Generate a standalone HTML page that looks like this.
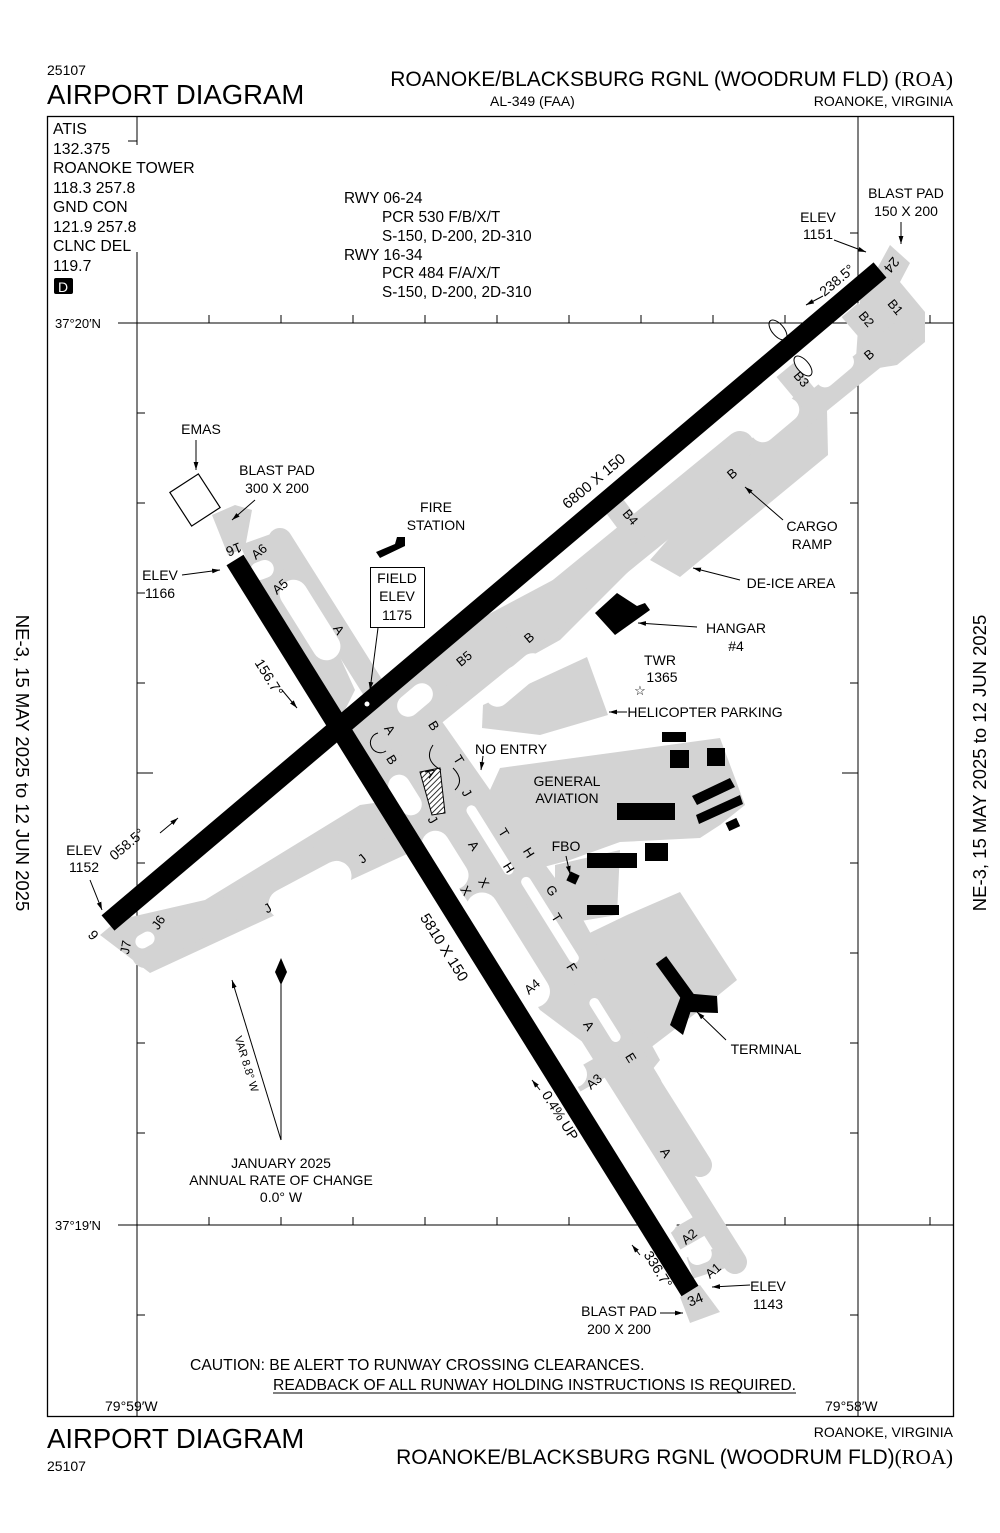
<!DOCTYPE html>
<html><head><meta charset="utf-8"><style>
html,body{margin:0;padding:0;background:#fff}
svg{display:block}
text{font-family:"Liberation Sans",sans-serif;fill:#000}
</style></head><body>
<svg width="1000" height="1533" viewBox="0 0 1000 1533" xmlns="http://www.w3.org/2000/svg">
<defs>
<pattern id="hatch" width="4" height="4" patternUnits="userSpaceOnUse" patternTransform="rotate(45)"><rect width="4" height="4" fill="#fff"/><line x1="0" y1="0" x2="0" y2="4" stroke="#000" stroke-width="1.6"/></pattern>
<marker id="ah" viewBox="0 0 10 10" refX="10" refY="5" markerWidth="8" markerHeight="8" orient="auto"><path d="M0,2 L10,5 L0,8 z" fill="#000"/></marker>
</defs>
<!-- header -->
<text x="47" y="75" font-size="14">25107</text>
<text x="47" y="104" font-size="27.5">AIRPORT DIAGRAM</text>
<text x="953" y="86" font-size="21" text-anchor="end">ROANOKE/BLACKSBURG RGNL (WOODRUM FLD) <tspan font-family="Liberation Serif">(ROA)</tspan></text>
<text x="490" y="106" font-size="14">AL-349 (FAA)</text>
<text x="953" y="106" font-size="14" text-anchor="end">ROANOKE, VIRGINIA</text>
<!-- frame -->
<rect x="47.5" y="116.5" width="906" height="1300" fill="none" stroke="#000" stroke-width="1.3"/>
<g stroke="#000" stroke-width="1">
<line x1="137" y1="116" x2="137" y2="145"/><line x1="128" y1="141" x2="137" y2="141"/>
<line x1="137" y1="252" x2="137" y2="1416"/>
<line x1="858" y1="116" x2="858" y2="1416"/>
<line x1="118" y1="323" x2="953" y2="323"/>
<line x1="118" y1="1225" x2="953" y2="1225"/>
</g>
<g stroke="#000" stroke-width="1">
<path d="M209 323v-8M281 323v-8M353 323v-8M425 323v-8M497 323v-8M569 323v-8M641 323v-8M713 323v-8M785 323v-8M930 323v-8"/>
<path d="M137 413h8M137 503h8M137 593h8M137 683h8M137 773h16M137 863h8M137 953h8M137 1043h8M137 1133h8M137 1315h8"/>
<path d="M858 233h-8M858 413h-8M858 503h-8M858 593h-8M858 683h-8M858 773h-16M858 863h-8M858 953h-8M858 1043h-8M858 1133h-8M858 1315h-8"/>
<path d="M137 1225v8M209 1225v-8M281 1225v-8M353 1225v-8M425 1225v-8M497 1225v-8M569 1225v-8M641 1225v-8M713 1225v-8M785 1225v-8M930 1225v-8"/>
</g>
<text x="55" y="328" font-size="13">37°20′N</text>
<text x="55" y="1230" font-size="13">37°19′N</text>
<!-- freq -->
<g font-size="15.8">
<text x="53" y="134">ATIS</text><text x="53" y="154">132.375</text>
<text x="53" y="173">ROANOKE TOWER</text><text x="53" y="193">118.3  257.8</text>
<text x="53" y="212">GND CON</text><text x="53" y="232">121.9  257.8</text>
<text x="53" y="251">CLNC DEL</text><text x="53" y="271">119.7</text>
</g>
<rect x="54" y="278" width="19" height="16" rx="2" fill="#000"/>
<text x="58" y="292" font-size="14" style="fill:#fff">D</text>
<g font-size="15.3">
<text x="344" y="203">RWY 06-24</text><text x="382" y="222">PCR 530 F/B/X/T</text><text x="382" y="241">S-150, D-200, 2D-310</text>
<text x="344" y="260">RWY 16-34</text><text x="382" y="278">PCR 484 F/A/X/T</text><text x="382" y="297">S-150, D-200, 2D-310</text>
</g>
<!-- side text -->
<text transform="translate(16,763) rotate(90)" font-size="18.5" text-anchor="middle">NE-3,  15 MAY 2025  to  12 JUN 2025</text>
<text transform="translate(986,763) rotate(-90)" font-size="18.5" text-anchor="middle">NE-3,  15 MAY 2025  to  12 JUN 2025</text>

<!-- gray pavements -->
<g fill="#d3d3d3" stroke="none">
<polygon points="575,940 627,915 680,892 737,980 700,1010 637,1058 612,1055 575,985"/>
<polygon points="500,768 720,738 745,805 720,825 700,838 620,842 570,860 540,868 505,830 490,790"/>
<polygon points="482,728 483,705 587,657 608,715 540,735"/>
<polygon points="555,865 620,850 617,915 575,922 555,900"/>
<polygon points="795,395 827,410 828,455 680,577 650,560"/>
<polygon points="890,245 910,263 900,282 925,312 925,342 897,365 855,372 860,300"/>
<polygon points="212,515 228,555 245,548 252,510 235,505"/>
<polygon points="240,545 282,530 355,690 340,720 300,680"/>
<polygon points="100,935 150,973 420,848 395,800 360,805 205,900 118,920"/>
<polygon points="330,720 420,690 455,740 490,790 575,905 660,1060 640,1085 540,1010 440,860 355,770"/>
<polygon points="340,720 440,640 600,555 640,560 560,640 470,690 420,720"/>
<polygon points="680,1297 700,1285 720,1312 690,1323"/>
</g>
<g stroke="#d3d3d3" fill="none" stroke-linecap="round">
<line x1="280" y1="540" x2="735" y2="1262" stroke-width="24"/>
<line x1="440" y1="740" x2="650" y2="1085" stroke-width="24"/>
<line x1="400" y1="740" x2="900" y2="335" stroke-width="26"/>
<line x1="640" y1="1070" x2="700" y2="1165" stroke-width="24"/>
<line x1="520" y1="625" x2="740" y2="445" stroke-width="28"/>
<line x1="145" y1="955" x2="400" y2="815" stroke-width="26"/>
</g>
<!-- connectors -->
<g stroke="#d3d3d3" stroke-width="22" stroke-linecap="butt">
<line x1="250" y1="565" x2="280" y2="550"/>
<line x1="268" y1="592" x2="290" y2="578"/>
<line x1="455" y1="640" x2="480" y2="672"/>
<line x1="610" y1="500" x2="640" y2="540"/>
<line x1="785" y1="370" x2="810" y2="400"/>
<line x1="850" y1="310" x2="880" y2="345"/>
<line x1="515" y1="985" x2="545" y2="970"/>
<line x1="575" y1="1082" x2="610" y2="1062"/>
<line x1="675" y1="1240" x2="710" y2="1220"/>
<line x1="690" y1="1268" x2="730" y2="1255"/>
<line x1="445" y1="880" x2="480" y2="862"/>
<line x1="150" y1="925" x2="165" y2="950"/>
</g>
<!-- white islands -->
<g fill="#fff">
<rect x="-20" y="-10" width="40" height="20" rx="10" transform="translate(522,540) rotate(-40)"/>
<rect x="-35" y="-12" width="70" height="24" rx="12" transform="translate(515,680) rotate(-40)"/>
<rect x="-70" y="-13" width="140" height="26" rx="13" transform="translate(690,450) rotate(-40)"/>
<rect x="-28" y="-12" width="56" height="24" rx="12" transform="translate(775,420) rotate(-40)"/>
<rect x="-22" y="-9" width="44" height="18" rx="9" transform="translate(835,370) rotate(-40)"/>
<rect x="-45" y="-14" width="90" height="28" rx="14" transform="translate(310,620) rotate(58)"/>
<rect x="-12" y="-9" width="24" height="18" rx="9" transform="translate(262,570) rotate(-20)"/>
<rect x="-22" y="-11" width="44" height="22" rx="11" transform="translate(405,795) rotate(58)"/>
<rect x="-32" y="-14" width="64" height="28" rx="14" transform="translate(445,860) rotate(58)"/>
<rect x="-65" y="-16" width="130" height="32" rx="16" transform="translate(508,950) rotate(58)"/>
<rect x="-30" y="-13" width="60" height="26" rx="13" transform="translate(565,1060) rotate(58)"/>
<rect x="-75" y="-17" width="150" height="34" rx="17" transform="translate(630,1170) rotate(58)"/>
<rect x="-12" y="-9" width="24" height="18" rx="9" transform="translate(700,1255) rotate(-20)"/>
<rect x="-40" y="-5" width="80" height="10" rx="5" transform="translate(490,840) rotate(58)"/>
<rect x="-50" y="-5" width="100" height="10" rx="5" transform="translate(550,920) rotate(58)"/>
<rect x="-25" y="-5" width="50" height="10" rx="5" transform="translate(605,1020) rotate(58)"/>
<rect x="-20" y="-11" width="40" height="22" rx="11" transform="translate(415,700) rotate(-40)"/>
<rect x="-45" y="-15" width="90" height="30" rx="15" transform="translate(310,890) rotate(-28)"/>
<rect x="-10" y="-7" width="20" height="14" rx="7" transform="translate(145,940) rotate(-30)"/>
</g>
<polygon points="420,772 440,768 445,813 432,815" fill="url(#hatch)" stroke="#000" stroke-width="1"/>
<!-- buildings -->
<g fill="#000">
<polygon points="595,613 617,593 637,606 645,603 650,610 615,635"/>
<polygon points="376,552 395,544 397,537 405,537 405,546 380,558"/>
<rect x="662" y="732" width="24" height="10"/>
<rect x="670" y="750" width="19" height="18"/>
<rect x="707" y="748" width="18" height="18"/>
<rect x="617" y="803" width="58" height="17"/>
<polygon points="692,796 730,778 735,787 697,805"/>
<polygon points="696,815 740,795 743,804 699,824"/>
<rect x="727" y="820" width="12" height="9" transform="rotate(-25 733 825)"/>
<rect x="587" y="853" width="50" height="15"/>
<rect x="645" y="843" width="23" height="18"/>
<rect x="568" y="873" width="10" height="10" transform="rotate(25 573 878)"/>
<rect x="587" y="905" width="32" height="10"/>
<line x1="661" y1="960" x2="690" y2="1000" stroke="#000" stroke-width="13"/>
<polygon points="683,993 717,996 718,1013 688,1012"/>
<polygon points="682,993 693,1004 683,1035 670,1025"/>
</g>
<!-- runways -->
<g stroke="#000" stroke-width="20" stroke-linecap="butt">
<line x1="235" y1="560" x2="690" y2="1291"/>
<line x1="108" y1="923" x2="880" y2="270"/>
</g>
<circle cx="367" cy="704" r="2.5" fill="#fff"/>
<rect x="-17" y="-20" width="34" height="40" fill="#fff" stroke="#000" stroke-width="1.2" transform="translate(195,500) rotate(-33)"/>
<!-- runway markings & labels -->
<g font-size="14">
<text transform="translate(232,545) rotate(158)" text-anchor="middle">16</text>
<text transform="translate(697,1304) rotate(-22)" text-anchor="middle">34</text>
<text transform="translate(97,932) rotate(-130)" text-anchor="middle">6</text>
<text transform="translate(888,262) rotate(130)" text-anchor="middle">24</text>
<text transform="translate(597,485) rotate(-40)" text-anchor="middle" font-size="15">6800 X 150</text>
<text transform="translate(440,950) rotate(58)" text-anchor="middle" font-size="15">5810 X 150</text>
<text transform="translate(265,680) rotate(58)" text-anchor="middle">156.7°</text>
<text transform="translate(130,848) rotate(-40)" text-anchor="middle">058.5°</text>
<text transform="translate(840,284) rotate(-40)" text-anchor="middle">238.5°</text>
<text transform="translate(556,1118) rotate(58)" text-anchor="middle">0.4% UP</text>
<text transform="translate(654,1272) rotate(58)" text-anchor="middle">336.7°</text>
</g>
<g stroke="#000" stroke-width="1" fill="none">
<line x1="282" y1="690" x2="297" y2="708" marker-end="url(#ah)"/>
<line x1="160" y1="833" x2="178" y2="818" marker-end="url(#ah)"/>
<line x1="823" y1="296" x2="806" y2="305" marker-end="url(#ah)"/>
<line x1="540" y1="1090" x2="532" y2="1080" marker-end="url(#ah)"/>
<line x1="640" y1="1255" x2="632" y2="1245" marker-end="url(#ah)"/>
<ellipse cx="778" cy="330" rx="6" ry="12" transform="rotate(-40 778 330)"/>
<ellipse cx="803" cy="366" rx="6" ry="12" transform="rotate(-40 803 366)"/>
<path d="M378 733 a10 10 0 1 0 8 18"/>
<path d="M433 745 q-10 15 8 25 M455 790 q10 -10 -2 -22"/>
</g>
<!-- taxi labels -->
<g font-size="13" text-anchor="middle">
<text transform="translate(262,555) rotate(-40)">A6</text>
<text transform="translate(283,590) rotate(-40)">A5</text>
<text transform="translate(335,632) rotate(58)">A</text>
<text transform="translate(467,662) rotate(-40)">B5</text>
<text transform="translate(532,641) rotate(-40)">B</text>
<text transform="translate(627,520) rotate(50)">B4</text>
<text transform="translate(735,477) rotate(-40)">B</text>
<text transform="translate(798,382) rotate(50)">B3</text>
<text transform="translate(863,322) rotate(50)">B2</text>
<text transform="translate(892,310) rotate(50)">B1</text>
<text transform="translate(872,358) rotate(-40)">B</text>
<text transform="translate(386,732) rotate(58)">A</text>
<text transform="translate(388,762) rotate(58)">B</text>
<text transform="translate(430,728) rotate(58)">B</text>
<text transform="translate(427,775) rotate(58)">A</text>
<text transform="translate(455,762) rotate(58)">T</text>
<text transform="translate(463,795) rotate(58)">J</text>
<text transform="translate(429,822) rotate(58)">J</text>
<text transform="translate(470,848) rotate(58)">A</text>
<text transform="translate(500,835) rotate(58)">T</text>
<text transform="translate(525,855) rotate(58)">H</text>
<text transform="translate(505,870) rotate(58)">H</text>
<text transform="translate(548,893) rotate(58)">G</text>
<text transform="translate(553,920) rotate(58)">T</text>
<text transform="translate(568,970) rotate(58)">F</text>
<text transform="translate(480,885) rotate(58)">X</text>
<text transform="translate(462,893) rotate(58)">X</text>
<text transform="translate(535,990) rotate(-40)">A4</text>
<text transform="translate(585,1028) rotate(58)">A</text>
<text transform="translate(627,1060) rotate(58)">E</text>
<text transform="translate(597,1085) rotate(-40)">A3</text>
<text transform="translate(662,1155) rotate(58)">A</text>
<text transform="translate(692,1240) rotate(-40)">A2</text>
<text transform="translate(716,1274) rotate(-40)">A1</text>
<text transform="translate(365,862) rotate(-40)">J</text>
<text transform="translate(270,912) rotate(-30)">J</text>
<text transform="translate(162,925) rotate(-55)">J6</text>
<text transform="translate(130,948) rotate(-80)">J7</text>
</g>
<!-- callouts -->
<g font-size="14" text-anchor="middle">
<text x="201" y="434">EMAS</text>
<text x="277" y="475">BLAST PAD</text><text x="277" y="493">300 X 200</text>
<text x="436" y="512">FIRE</text><text x="436" y="530">STATION</text>
<text x="160" y="580">ELEV</text><text x="160" y="598">1166</text>
<text x="84" y="855">ELEV</text><text x="84" y="872">1152</text>
<text x="818" y="222">ELEV</text><text x="818" y="239">1151</text>
<text x="906" y="198">BLAST PAD</text><text x="906" y="216">150 X 200</text>
<text x="812" y="531">CARGO</text><text x="812" y="549">RAMP</text>
<text x="791" y="588">DE-ICE AREA</text>
<text x="736" y="633">HANGAR</text><text x="736" y="651">#4</text>
<text x="660" y="665">TWR</text><text x="662" y="682">1365</text>
<text x="705" y="717">HELICOPTER PARKING</text>
<text x="511" y="754">NO ENTRY</text>
<text x="567" y="786">GENERAL</text><text x="567" y="803">AVIATION</text>
<text x="566" y="851">FBO</text>
<text x="766" y="1054">TERMINAL</text>
<text x="768" y="1291">ELEV</text><text x="768" y="1309">1143</text>
<text x="619" y="1316">BLAST PAD</text><text x="619" y="1334">200 X 200</text>
<text x="281" y="1168">JANUARY 2025</text><text x="281" y="1185">ANNUAL RATE OF CHANGE</text><text x="281" y="1202">0.0° W</text>
</g>
<rect x="370.5" y="567.5" width="54" height="60" fill="#fff" stroke="#000"/>
<g font-size="14" text-anchor="middle"><text x="397" y="583">FIELD</text><text x="397" y="601">ELEV</text><text x="397" y="620">1175</text></g>
<text x="640" y="695" font-size="13" text-anchor="middle">☆</text>
<g stroke="#000" stroke-width="1" fill="none">
<line x1="196" y1="440" x2="196" y2="470" marker-end="url(#ah)"/>
<line x1="255" y1="500" x2="232" y2="520" marker-end="url(#ah)"/>
<line x1="182" y1="575" x2="220" y2="570" marker-end="url(#ah)"/>
<line x1="378" y1="628" x2="370" y2="690" marker-end="url(#ah)"/>
<line x1="90" y1="880" x2="102" y2="910" marker-end="url(#ah)"/>
<line x1="834" y1="240" x2="866" y2="252" marker-end="url(#ah)"/>
<line x1="901" y1="222" x2="901" y2="244" marker-end="url(#ah)"/>
<line x1="783" y1="520" x2="745" y2="487" marker-end="url(#ah)"/>
<line x1="740" y1="580" x2="693" y2="568" marker-end="url(#ah)"/>
<line x1="697" y1="627" x2="638" y2="623" marker-end="url(#ah)"/>
<line x1="627" y1="712" x2="609" y2="712" marker-end="url(#ah)"/>
<line x1="483" y1="756" x2="481" y2="770" marker-end="url(#ah)"/>
<line x1="566" y1="856" x2="570" y2="874" marker-end="url(#ah)"/>
<line x1="726" y1="1040" x2="697" y2="1012" marker-end="url(#ah)"/>
<line x1="750" y1="1285" x2="712" y2="1287" marker-end="url(#ah)"/>
<line x1="660" y1="1313" x2="683" y2="1313" marker-end="url(#ah)"/>
<line x1="281" y1="1140" x2="281" y2="980"/>
<line x1="281" y1="1140" x2="232" y2="980" marker-end="url(#ah)"/>
</g>
<polygon points="281,958 287,972 281,985 275,972" fill="#000"/>
<text transform="translate(243,1065) rotate(73)" font-size="11" text-anchor="middle">VAR 8.8° W</text>
<!-- caution -->
<text x="190" y="1370" font-size="15.7">CAUTION: BE ALERT TO RUNWAY CROSSING CLEARANCES.</text>
<text x="273" y="1390" font-size="15.7" textLength="523">READBACK OF ALL RUNWAY HOLDING INSTRUCTIONS IS REQUIRED.</text>
<line x1="273" y1="1393" x2="796" y2="1393" stroke="#000" stroke-width="1"/>
<text x="105" y="1411" font-size="14">79°59′W</text>
<text x="825" y="1411" font-size="14">79°58′W</text>
<!-- footer -->
<text x="47" y="1448" font-size="27.5">AIRPORT DIAGRAM</text>
<text x="47" y="1471" font-size="14">25107</text>
<text x="953" y="1437" font-size="14" text-anchor="end">ROANOKE, VIRGINIA</text>
<text x="953" y="1464" font-size="21" text-anchor="end">ROANOKE/BLACKSBURG RGNL (WOODRUM FLD)<tspan font-family="Liberation Serif">(ROA)</tspan></text>
</svg>
</body></html>
